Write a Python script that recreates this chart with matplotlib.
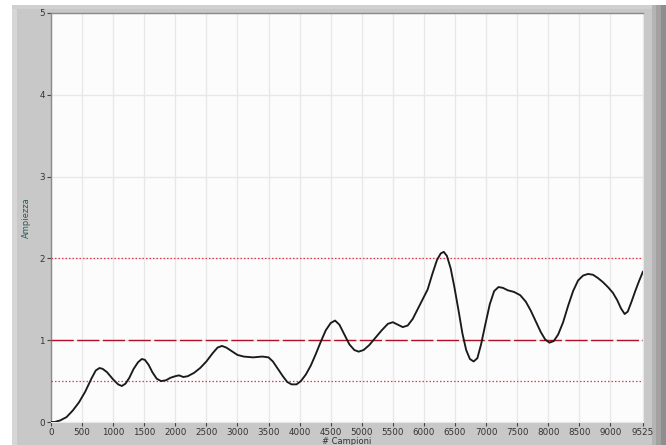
import matplotlib
matplotlib.use("Agg")
import matplotlib.pyplot as plt
from matplotlib.patches import Rectangle

# Sample index (# Campioni) and amplitude of the acquired signal
samples = [0, 60, 150, 250, 350, 450, 550, 650, 720, 780, 830, 900, 1000, 1080,
           1140, 1200, 1260, 1330, 1400, 1460, 1510, 1570, 1630, 1700, 1770, 1850,
           1920, 2000, 2060, 2130, 2200, 2300, 2400, 2500, 2600, 2680, 2750, 2820,
           2900, 3000, 3100, 3250, 3400, 3500, 3570, 3650, 3730, 3800, 3870, 3950,
           4020, 4100, 4180, 4260, 4340, 4420, 4500, 4570, 4640, 4720, 4800, 4880,
           4950, 5030, 5120, 5220, 5320, 5420, 5500, 5580, 5660, 5740, 5820, 5900,
           5980, 6060, 6140, 6210, 6270, 6320, 6370, 6430, 6490, 6560, 6620, 6680,
           6740, 6800, 6860, 6920, 6990, 7060, 7130, 7200, 7270, 7350, 7450, 7550,
           7640, 7720, 7800, 7880, 7950, 8020, 8090, 8160, 8240, 8320, 8400, 8480,
           8560, 8640, 8720, 8800, 8880, 8960, 9040, 9110, 9170, 9230, 9280, 9340,
           9400, 9460, 9525]
amplitude = [0.00, 0.00, 0.02, 0.06, 0.14, 0.24, 0.37, 0.53, 0.63, 0.66, 0.65, 0.61,
             0.52, 0.46, 0.44, 0.47, 0.54, 0.65, 0.73, 0.77, 0.76, 0.70, 0.61, 0.53,
             0.50, 0.51, 0.54, 0.56, 0.57, 0.55, 0.56, 0.60, 0.66, 0.74, 0.84, 0.91,
             0.93, 0.91, 0.87, 0.82, 0.80, 0.79, 0.80, 0.79, 0.74, 0.65, 0.56, 0.49,
             0.46, 0.46, 0.50, 0.58, 0.69, 0.83, 0.98, 1.12, 1.21, 1.24, 1.19, 1.07,
             0.95, 0.88, 0.86, 0.88, 0.94, 1.03, 1.12, 1.20, 1.22, 1.19, 1.16, 1.18,
             1.26, 1.38, 1.50, 1.62, 1.82, 1.98, 2.06, 2.08, 2.03, 1.88, 1.65, 1.35,
             1.08, 0.88, 0.77, 0.74, 0.78, 0.95, 1.20, 1.44, 1.60, 1.65, 1.64, 1.61,
             1.59, 1.55, 1.47, 1.36, 1.23, 1.10, 1.01, 0.97, 0.99, 1.07, 1.22, 1.42,
             1.60, 1.73, 1.79, 1.81, 1.80, 1.76, 1.71, 1.65, 1.58, 1.49, 1.39, 1.32,
             1.35, 1.47, 1.60, 1.72, 1.84]

# Threshold levels
level_main = 1.0
levels_band = [0.5, 2.0]

x_ticks = [0, 500, 1000, 1500, 2000, 2500, 3000, 3500, 4000, 4500, 5000, 5500,
           6000, 6500, 7000, 7500, 8000, 8500, 9000, 9525]
y_ticks = [0, 1, 2, 3, 4, 5]

W, H = 666, 445
fig = plt.figure(figsize=(W / 100, H / 100), dpi=100, facecolor="white")


def px_rect(x0, y0, x1, y1, color):
    # rectangle given in pixel coordinates from the top-left corner
    fig.patches.append(Rectangle((x0 / W, 1 - y1 / H), (x1 - x0) / W, (y1 - y0) / H,
                                 transform=fig.transFigure, facecolor=color,
                                 edgecolor="none", zorder=-10))


# Instrument panel frame
px_rect(12, 5, W, H, "#c8c8c8")
px_rect(12, 5, 17, H, "#d6d6d6")
px_rect(12, 5, W, 9, "#d0d0d0")
px_rect(652, 5, 656, H, "#b4b4b4")
px_rect(656, 5, 661, H, "#a2a2a2")
px_rect(661, 5, W, H, "#8e8e8e")

left, right, top, bottom = 51, 643, 13, 422
ax = fig.add_axes([left / W, 1 - bottom / H, (right - left) / W, (bottom - top) / H])
ax.set_zorder(1)
ax.set_facecolor("#fcfcfc")

ax.plot(samples, amplitude, color="#1a1a1a", lw=1.35, zorder=4,
        solid_capstyle="round", solid_joinstyle="round")

ax.axhline(level_main, color="#b0102a", lw=1.0, dashes=(16, 2.5), zorder=3)
for lv in levels_band:
    ax.axhline(lv, color="#e23a4a", lw=0.9, dashes=(1.2, 1.6), zorder=3)

ax.set_xlim(0, 9525)
ax.set_ylim(0, 5)
ax.set_xticks(x_ticks)
ax.set_yticks(y_ticks)
ax.set_xticklabels([str(t) for t in x_ticks])
ax.grid(True, color="#e8e8e8", lw=1.0, zorder=1)
ax.set_axisbelow(True)

ax.tick_params(axis="both", direction="out", length=3, width=0.8, color="#444444",
               labelsize=6.3, labelcolor="#333333", pad=1.5)

for side in ["left", "top"]:
    ax.spines[side].set_color("#8a8a8a")
    ax.spines[side].set_linewidth(1.0)
for side in ["right", "bottom"]:
    ax.spines[side].set_color("#e8e8e8")
    ax.spines[side].set_linewidth(0.8)

ax.set_xlabel("# Campioni", fontsize=6.0, color="#333333", labelpad=0)
ax.set_ylabel("Ampiezza", fontsize=6.0, color="#2d5a5a", labelpad=6)

fig.savefig("out.png", dpi=100, facecolor=fig.get_facecolor())
